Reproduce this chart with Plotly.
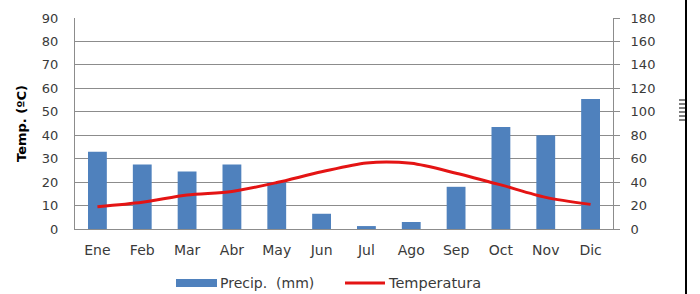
import plotly.graph_objects as go

months = ["Ene", "Feb", "Mar", "Abr", "May", "Jun", "Jul", "Ago", "Sep", "Oct", "Nov", "Dic"]
precip_mm = [66, 55, 49, 55, 40, 13, 2.5, 6, 36, 87, 80, 111]
temp_c = [9.5, 11.4, 14.5, 16.0, 19.8, 24.4, 28.2, 28.0, 23.8, 18.8, 13.5, 10.5]

precip_ticks = list(range(0, 181, 20))
temp_ticks = list(range(0, 91, 10))

BAR = "#4F81BD"
LINE = "#E41414"
GRID = "#8C8C8C"
TXT = "#3A3A3A"
FONT = "DejaVu Sans"

fig = go.Figure()
fig.add_trace(go.Bar(x=months, y=precip_mm, name="Precip. (mm)", marker_color=BAR,
                     marker_line_width=0, yaxis="y"))
fig.add_trace(go.Scatter(x=months, y=temp_c, name="Temperatura", mode="lines",
                         line=dict(color=LINE, width=3, shape="spline", smoothing=0.8),
                         yaxis="y2"))

# geometry helpers (plot area in pixels)
L, R, T, B = 75, 613, 18, 229
W, H = 700, 294
def px(x):
    return (x - L) / (R - L)
def py(y):
    return (B - y) / (B - T)

shapes = []
# legend swatches
shapes.append(dict(type="rect", xref="paper", yref="paper", x0=px(176), x1=px(217),
                   y0=py(287), y1=py(279), fillcolor=BAR, line_width=0))
shapes.append(dict(type="line", xref="paper", yref="paper", x0=px(345), x1=px(385),
                   y0=py(283), y1=py(283), line=dict(color=LINE, width=3)))
# right border line
shapes.append(dict(type="line", xref="paper", yref="paper", x0=px(686), x1=px(686),
                   y0=py(0), y1=py(294), line=dict(color="black", width=2)))
# small ruler glyph
for yy in [100, 104, 108, 112, 116, 120]:
    shapes.append(dict(type="line", xref="paper", yref="paper", x0=px(679), x1=px(687),
                       y0=py(yy), y1=py(yy), line=dict(color="black", width=1)))

annotations = [
    dict(xref="paper", yref="paper", x=px(218), y=py(283), text="Precip.  (mm)",
         showarrow=False, xanchor="left", yanchor="middle",
         font=dict(family=FONT, size=14, color=TXT)),
    dict(xref="paper", yref="paper", x=px(386), y=py(283), text="Temperatura",
         showarrow=False, xanchor="left", yanchor="middle",
         font=dict(family=FONT, size=14.5, color=TXT)),
]

fig.update_layout(
    width=W, height=H,
    margin=dict(l=L, r=W - R, t=T, b=H - B, autoexpand=False),
    paper_bgcolor="white", plot_bgcolor="white",
    showlegend=False,
    bargap=0.58,
    font=dict(family=FONT, size=13, color=TXT),
    xaxis=dict(showline=True, linecolor=GRID, linewidth=1, ticks="", showgrid=False,
               tickfont=dict(size=14, color=TXT), ticklabelstandoff=8),
    yaxis=dict(side="right", range=[0, 180], tickvals=precip_ticks, showgrid=True,
               gridcolor=GRID, gridwidth=1, showline=True, linecolor=GRID, linewidth=1,
               ticks="outside", ticklen=6, tickcolor=GRID, tickfont=dict(size=13, color=TXT),
               ticklabelstandoff=8, zeroline=False),
    yaxis2=dict(side="left", overlaying="y", range=[0, 90], tickvals=temp_ticks,
                showgrid=False, showline=True, linecolor=GRID, linewidth=1, ticks="",
                tickfont=dict(size=13, color=TXT), ticklabelstandoff=13, zeroline=False,
                title=dict(text="Temp. (ºC)", standoff=12,
                           font=dict(family=FONT, size=13, color="black", weight="bold"))),
    shapes=shapes,
    annotations=annotations,
)

fig.write_html("out.html", config={"displayModeBar": False},
               post_script="document.body.style.margin='0';")
